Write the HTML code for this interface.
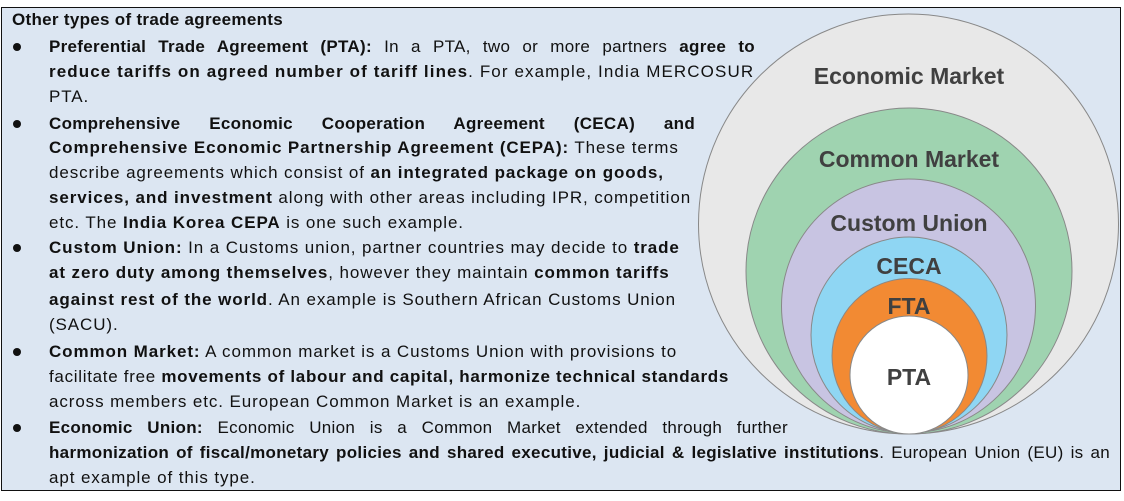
<!DOCTYPE html>
<html><head><meta charset="utf-8"><style>
body{margin:0;width:1124px;height:501px;background:#fff;position:relative;overflow:hidden;font-family:"Liberation Sans",sans-serif;}
#box{position:absolute;left:1px;top:7px;width:1118px;height:482px;border:1.5px solid #111;background:#dce6f2;}
.l{position:absolute;left:49px;height:20px;line-height:20px;font-size:17px;letter-spacing:0.9px;color:#111;white-space:nowrap;}
.j{text-align:justify;text-align-last:justify;white-space:normal;overflow:hidden;}
.b{position:absolute;left:13px;width:8px;height:8px;border-radius:50%;background:#111;}
svg{position:absolute;left:0;top:0;}
</style></head><body>
<div id="box"></div>
<svg width="1124" height="501">
<g stroke="#888" stroke-width="1">
<circle cx="908.5" cy="224" r="210" fill="#e8e8e8"/>
<circle cx="909" cy="271" r="163" fill="#9fd3b0"/>
<circle cx="908.5" cy="306" r="127" fill="#c8c4e2"/>
<circle cx="909" cy="335" r="98" fill="#8fd6f3"/>
<circle cx="909.5" cy="356" r="77.5" fill="#f28a33"/>
<circle cx="909" cy="375" r="59" fill="#fff"/>
</g>
<g font-family="Liberation Sans,sans-serif" font-weight="bold" font-size="23" fill="#404040" text-anchor="middle">
<text x="909" y="84">Economic Market</text>
<text x="909" y="167">Common Market</text>
<text x="909" y="231">Custom Union</text>
<text x="909" y="274">CECA</text>
<text x="909" y="314">FTA</text>
<text x="909" y="385">PTA</text>
</g>
</svg>
<div class="l" style="left:12px;top:10px;font-weight:bold;letter-spacing:0.3px">Other types of trade agreements</div>
<div class="b" style="top:43px"></div>
<div class="l j" style="top:37px;width:706px;letter-spacing:0.3px"><b>Preferential Trade Agreement (PTA):</b> In a PTA, two or more partners <b>agree to</b></div>
<div class="l" style="top:62px;letter-spacing:1.1px"><b>reduce tariffs on agreed number of tariff lines</b>. For example, India MERCOSUR</div>
<div class="l" style="top:87px">PTA.</div>
<div class="b" style="top:120px"></div>
<div class="l j" style="top:114px;width:646px;letter-spacing:0.3px"><b>Comprehensive Economic Cooperation Agreement (CECA) and</b></div>
<div class="l" style="top:138px"><b>Comprehensive Economic Partnership Agreement (CEPA):</b> These terms</div>
<div class="l" style="top:163px">describe agreements which consist of <b>an integrated package on goods,</b></div>
<div class="l" style="top:188px"><b>services, and investment</b> along with other areas including IPR, competition</div>
<div class="l" style="top:213px">etc. The <b>India Korea CEPA</b> is one such example.</div>
<div class="b" style="top:244px"></div>
<div class="l" style="top:238px"><b>Custom Union:</b> In a Customs union, partner countries may decide to <b>trade</b></div>
<div class="l" style="top:263px"><b>at zero duty among themselves</b>, however they maintain <b>common tariffs</b></div>
<div class="l" style="top:290px"><b>against rest of the world</b>. An example is Southern African Customs Union</div>
<div class="l" style="top:315px">(SACU).</div>
<div class="b" style="top:348px"></div>
<div class="l" style="top:342px"><b>Common Market:</b> A common market is a Customs Union with provisions to</div>
<div class="l" style="top:367px;letter-spacing:0.7px">facilitate free <b>movements of labour and capital, harmonize technical standards</b></div>
<div class="l" style="top:392px">across members etc. European Common Market is an example.</div>
<div class="b" style="top:424px"></div>
<div class="l j" style="top:418px;width:739px;letter-spacing:0.3px"><b>Economic Union:</b> Economic Union is a Common Market extended through further</div>
<div class="l j" style="top:443px;width:1061px;letter-spacing:0.3px"><b>harmonization of fiscal/monetary policies and shared executive, judicial &amp; legislative institutions</b>. European Union (EU) is an</div>
<div class="l" style="top:468px">apt example of this type.</div>
</body></html>
